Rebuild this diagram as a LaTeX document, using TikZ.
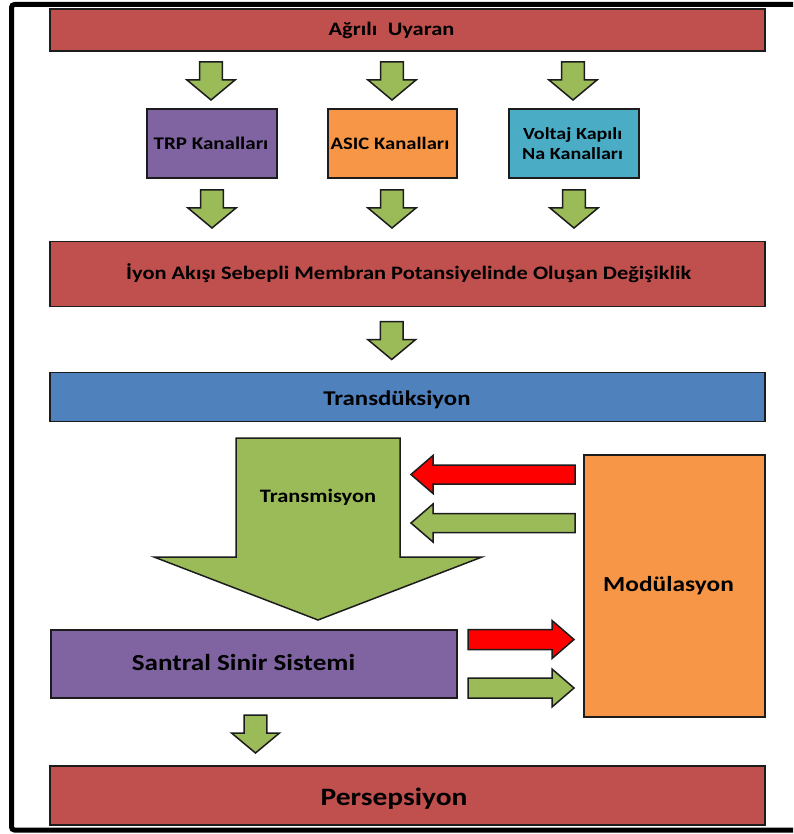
\documentclass[tikz,border=0pt]{standalone}
\usepackage{fontspec}
\setmainfont{Carlito}[FakeStretch=1.18]
\definecolor{cred}{HTML}{C0504D}
\definecolor{cpurple}{HTML}{8064A2}
\definecolor{corange}{HTML}{F79646}
\definecolor{cteal}{HTML}{4BACC6}
\definecolor{cblue}{HTML}{4F81BD}
\definecolor{cgreen}{HTML}{9BBB59}
\definecolor{bred}{HTML}{FF0000}
\definecolor{edge}{HTML}{1C1C1C}
\tikzset{
  box/.style={draw=edge, line width=1.6pt, inner sep=0pt, anchor=center},
  lbl/.style={inner sep=0pt, text=black, anchor=base},
  fs/.style={font=\fontsize{#1}{19.5}\selectfont\bfseries},
  blk/.style={draw=edge, line width=1.5pt, line join=miter},
  pics/darrow/.style={code={\draw[blk,fill=#1] (-11.3,0) -- (11.3,0) -- (11.3,18) -- (24,18) -- (0,38) -- (-24,18) -- (-11.3,18) -- cycle;}},
  pics/larrow/.style={code={\draw[blk,fill=#1] (0,0) -- (22,-19) -- (22,-9.5) -- (164,-9.5) -- (164,9.5) -- (22,9.5) -- (22,19) -- cycle;}},
  pics/rarrow/.style={code={\draw[blk,fill=#1] (0,0) -- (-22,-19) -- (-22,-10) -- (-106,-10) -- (-106,10) -- (-22,10) -- (-22,19) -- cycle;}}
}
\begin{document}
\begin{tikzpicture}[x=1pt,y=-1pt]
\useasboundingbox (0,0) rectangle (793,834);
% frame
\draw[line width=5pt, rounded corners=3pt] (793,4.5) -- (11.5,4.5) -- (11.5,830) -- (793,830);

% boxes
\node[box,fill=cred,minimum width=715pt,minimum height=42pt] (uyaran) at (407.5,30) {};
\node[lbl,fs=19] (uyaranT) at (391.5,36) {Ağrılı\hspace{0.55em}Uyaran};

\node[box,fill=cpurple,minimum width=130pt,minimum height=69pt] (trp) at (212,143.5) {};
\node[lbl,fs=17.8] (trpT) at (211,150) {TRP Kanalları};
\node[box,fill=corange,minimum width=129pt,minimum height=69pt] (asic) at (392.5,143.5) {};
\node[lbl,fs=17.5] (asicT) at (390,150) {ASIC Kanalları};
\node[box,fill=cteal,minimum width=130pt,minimum height=69pt] (volt) at (574,143.5) {};
\node[fs=17,inner sep=0pt,align=center,anchor=center] (voltT) at (572.6,143.5) {Voltaj Kapılı\\Na Kanalları};

\node[box,fill=cred,minimum width=715pt,minimum height=65pt] (iyon) at (407.5,274) {};
\node[lbl,fs=19] (iyonT) at (408.7,279.5) {İyon Akışı Sebepli Membran Potansiyelinde Oluşan Değişiklik};

\node[box,fill=cblue,minimum width=715pt,minimum height=49pt] (trans) at (407.5,397) {};
\node[lbl,fs=21] (transT) at (397,405) {Transdüksiyon};

\node[box,fill=corange,minimum width=181pt,minimum height=262pt] (mod) at (674.5,586) {};
\node[lbl,fs=21.5] (modT) at (668.5,591) {Modülasyon};

\node[box,fill=cpurple,minimum width=406pt,minimum height=68pt] (ssc) at (254,664) {};
\node[lbl,fs=23] (sscT) at (243.5,670) {Santral Sinir Sistemi};

\node[box,fill=cred,minimum width=715pt,minimum height=59pt] (pers) at (407.5,795.5) {};
\node[lbl,fs=25] (persT) at (394,805) {Persepsiyon};

% big transmission arrow
\draw[blk,fill=cgreen] (236,438) -- (400,438) -- (400,557) -- (482,557) -- (318,620) -- (154,557) -- (236,557) -- cycle;
\node[lbl,fs=19] (tmT) at (318,502) {Transmisyon};

% small down arrows
\pic at (211,62) {darrow=cgreen};
\pic at (392,62) {darrow=cgreen};
\pic at (573,62) {darrow=cgreen};
\pic at (212,190) {darrow=cgreen};
\pic at (392,190) {darrow=cgreen};
\pic at (574,190) {darrow=cgreen};
\pic at (391.7,321.5) {darrow=cgreen};
\pic at (255.5,715) {darrow=cgreen};

% modulation arrows
\pic at (411,474.5) {larrow=bred};
\pic at (411,523) {larrow=cgreen};
\pic at (574,639.5) {rarrow=bred};
\pic at (574,688) {rarrow=cgreen};
\end{tikzpicture}
\end{document}
